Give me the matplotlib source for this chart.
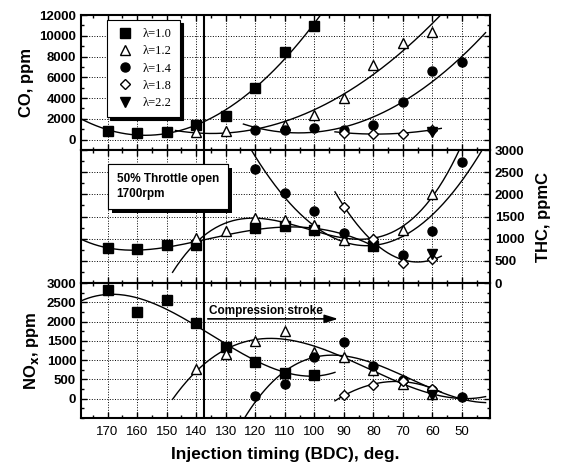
import numpy as np
import matplotlib

matplotlib.use("Agg")
import matplotlib.pyplot as plt
import matplotlib.patheffects as pe
from matplotlib.ticker import MultipleLocator

plt.rcParams["font.family"] = ["Liberation Sans", "DejaVu Sans"]

# --- data ---
lambdas = ["λ=1.0", "λ=1.2", "λ=1.4", "λ=1.8", "λ=2.2"]

x_10 = [170, 160, 150, 140, 130, 120, 110, 100]
x_12 = [140, 130, 120, 110, 100, 90, 80, 70, 60]
x_14 = [120, 110, 100, 90, 80, 70, 60, 50]
x_18 = [90, 80, 70, 60]
x_22 = [60]

x_co_12 = [140, 130, 110, 100, 90, 80, 70, 60]
co_10 = [800, 650, 780, 1400, 2300, 5000, 8400, 10900]
co_12 = [700, 850, 1450, 2400, 4000, 7200, 9300, 10400]
co_14 = [960, 960, 1150, 960, 1440, 3600, 6650, 7500]
co_18 = [650, 580, 580, 960]
co_22 = [700]

x_thc_10 = [170, 160, 150, 140, 120, 110, 100, 80]
thc_10 = [780, 760, 850, 850, 1250, 1280, 1200, 840]
thc_12 = [1010, 1170, 1460, 1420, 1300, 960, 1000, 1190, 2010]
thc_14 = [2580, 2040, 1620, 1130, 850, 630, 1170, 2730]
thc_18 = [1710, 1000, 450, 550]
thc_22 = [660]

nox_10 = [2830, 2260, 2565, 1970, 1350, 960, 670, 610]
nox_12 = [760, 1170, 1500, 1760, 1220, 1070, 740, 370, 130]
nox_14 = [60, 390, 1070, 1470, 840, 480, 230, 40]
nox_18 = [90, 350, 470, 260]
nox_22 = [100]

marker_styles = [
    dict(marker="s", mfc="k", mec="k"),
    dict(marker="^", mfc="white", mec="k"),
    dict(marker="o", mfc="k", mec="k"),
    dict(marker="D", mfc="white", mec="k", markersize=5),
    dict(marker="v", mfc="k", mec="k"),
]


def fit_line(ax, xs, ys, deg, x0, x1):
    # polynomial trend line like the original fitted curves
    c = np.polyfit(xs, ys, deg)
    xx = np.linspace(x0, x1, 200)
    ax.plot(xx, np.polyval(c, xx), color="k", lw=1.0, zorder=2)


def scatter(ax, sets):
    for (xs, ys), st, lab in zip(sets, marker_styles, lambdas):
        kw = dict(markersize=6.5, mew=1.0)
        kw.update(st)
        ax.plot(xs, ys, ls="none", zorder=3, label=lab, **kw)


fig = plt.figure(figsize=(5.66, 4.65), dpi=100)
left, width = 81 / 566, 409 / 566
ax1 = fig.add_axes([left, 1 - 150 / 465, width, 135 / 465])
ax2 = fig.add_axes([left, 1 - 283 / 465, width, 133 / 465], sharex=ax1)
ax3 = fig.add_axes([left, 1 - 418 / 465, width, 135 / 465], sharex=ax1)

# CO panel
fit_line(ax1, x_10, co_10, 3, 179, 95)
fit_line(ax1, x_co_12, co_12, 2, 147, 55)
fit_line(ax1, x_14, co_14, 2, 124, 42)
fit_line(ax1, x_18, co_18, 2, 93, 57)
scatter(ax1, [(x_10, co_10), (x_co_12, co_12), (x_14, co_14), (x_18, co_18), (x_22, co_22)])
ax1.set_ylim(-1000, 12000)
ax1.set_yticks(range(0, 12001, 2000))
ax1.yaxis.set_minor_locator(MultipleLocator(1000))
ax1.set_ylabel("CO, ppm", fontsize=12, fontweight="bold", labelpad=4)

leg = ax1.legend(loc="upper left", bbox_to_anchor=(0.064, 0.963), borderaxespad=0,
                 frameon=True, fancybox=False, edgecolor="k", framealpha=1,
                 shadow={"color": "k", "alpha": 1}, handletextpad=0.6, handlelength=1.6,
                 labelspacing=0.42, borderpad=0.65, prop={"family": "Liberation Serif", "size": 9})
leg.get_frame().set_linewidth(0.8)

# THC panel
fit_line(ax2, x_thc_10, thc_10, 4, 179, 80)
fit_line(ax2, x_12, thc_12, 3, 148, 51)
fit_line(ax2, x_14, thc_14, 2, 126, 42)
fit_line(ax2, x_18, thc_18, 2, 93, 57)
scatter(ax2, [(x_thc_10, thc_10), (x_12, thc_12), (x_14, thc_14), (x_18, thc_18), (x_22, thc_22)])
ax2.set_ylim(0, 3000)
ax2.yaxis.set_major_locator(MultipleLocator(500))
ax2.yaxis.set_minor_locator(MultipleLocator(250))
ax2.yaxis.tick_right()
ax2.yaxis.set_label_position("right")
ax2.set_ylabel("THC, ppmC", fontsize=12, fontweight="bold", labelpad=8)
t = ax2.text(0.087, 0.83, "50% Throttle open\n1700rpm", transform=ax2.transAxes,
             ha="left", va="top", fontsize=8.5, fontweight="bold", linespacing=1.35,
             bbox=dict(boxstyle="square,pad=0.75", fc="white", ec="k", lw=0.8), zorder=5)
t.get_bbox_patch().set_path_effects([pe.withSimplePatchShadow(offset=(3, -3), shadow_rgbFace="k", alpha=1), pe.Normal()])

# NOx panel
fit_line(ax3, x_10, nox_10, 3, 179, 93)
fit_line(ax3, x_12, nox_12, 3, 148, 42)
fit_line(ax3, x_14, nox_14, 3, 124, 42)
fit_line(ax3, x_18, nox_18, 2, 93, 57)
scatter(ax3, [(x_10, nox_10), (x_12, nox_12), (x_14, nox_14), (x_18, nox_18), (x_22, nox_22)])
ax3.set_ylim(-500, 3000)
ax3.set_yticks(range(0, 3001, 500))
ax3.yaxis.set_minor_locator(MultipleLocator(250))
ax3.set_ylabel(r"NO$_\mathbf{x}$, ppm", fontsize=12, fontweight="bold", labelpad=4)
ax3.annotate("", xy=(91, 2070), xytext=(137, 2070),
             arrowprops=dict(arrowstyle="-|>,head_length=0.8,head_width=0.25", color="k", lw=1.2))
ax3.text(135.5, 2280, "Compression stroke", fontsize=8.5, fontweight="bold", va="center", ha="left")

ax3.set_xlim(179, 40.5)
ax3.set_xticks(range(50, 171, 10))
ax3.xaxis.set_minor_locator(MultipleLocator(5))
ax3.set_xlabel("Injection timing (BDC), deg.", fontsize=12.5, fontweight="bold", labelpad=6)

for ax in (ax1, ax2, ax3):
    ax.axvline(137.3, color="k", lw=1.5, zorder=4)
    ax.grid(True, which="major", ls=":", color="k", lw=0.7)
    ax.tick_params(which="both", direction="in", top=True, bottom=True, left=True, right=True)
    ax.tick_params(which="major", length=4, width=1.0, labelsize=9.5)
    ax.tick_params(which="minor", length=2.5, width=1.0)
    for s in ax.spines.values():
        s.set_linewidth(1.5)
    for lab in ax.get_yticklabels():
        lab.set_fontweight("bold")
ax1.tick_params(labelbottom=False)
ax2.tick_params(labelbottom=False, labelleft=False, labelright=True)
ax3.tick_params(axis="x", pad=6)

fig.savefig("out.png", dpi=100)
